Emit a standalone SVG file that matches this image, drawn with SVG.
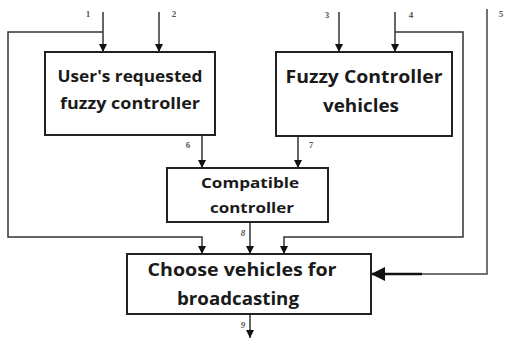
<svg xmlns="http://www.w3.org/2000/svg" width="505" height="338" viewBox="0 0 505 338">
<defs>
<marker id="ah" viewBox="0 0 8 8" refX="8" refY="4" markerWidth="8" markerHeight="8" markerUnits="userSpaceOnUse" orient="auto">
<path d="M0,0 L8,4 L0,8 Z" fill="#111"/>
</marker>
<marker id="ahBig" viewBox="0 0 14 14" refX="14" refY="7" markerWidth="14" markerHeight="14" markerUnits="userSpaceOnUse" orient="auto">
<path d="M0,0 L14,7 L0,14 Z" fill="#111"/>
</marker>
</defs>
<style>
.box{fill:#fff;stroke:#222;stroke-width:2}
.t{font-family:"Open Sans","Liberation Sans",sans-serif;font-weight:bold;fill:#1a1a1a;text-anchor:middle}
.n{font-family:"Liberation Serif",serif;font-weight:bold;font-size:9px;fill:#555;text-anchor:middle}
.c{fill:none;stroke:#444;stroke-width:1.5}
.ca{fill:none;stroke:#333;stroke-width:1.5;marker-end:url(#ah)}
</style>
<rect width="505" height="338" fill="#fff"/>
<g id="connectors">
<line class="ca" x1="103" y1="12" x2="103" y2="52"/>
<line class="ca" x1="159" y1="12" x2="159" y2="52"/>
<line class="ca" x1="339" y1="12" x2="339" y2="52"/>
<line class="ca" x1="395" y1="12" x2="395" y2="52"/>
<polyline class="ca" points="103,32 8,32 8,237 202,237 202,254"/>
<polyline class="ca" points="395,32 463,32 463,237 284,237 284,254"/>
<line class="ca" x1="202" y1="136" x2="202" y2="168"/>
<line class="ca" x1="298" y1="136" x2="298" y2="168"/>
<line class="ca" x1="250" y1="222" x2="250" y2="254"/>
<line class="ca" x1="250" y1="314" x2="250" y2="338"/>
<polyline class="c" points="487,9 487,274 422,274"/>
<line x1="422" y1="274" x2="371" y2="274" stroke="#111" stroke-width="2.5" marker-end="url(#ahBig)"/>
<text class="n" x="88" y="17">1</text>
<text class="n" x="174" y="17">2</text>
<text class="n" x="327" y="18">3</text>
<text class="n" x="411" y="18">4</text>
<text class="n" x="501" y="17" text-anchor="start">5</text>
<text class="n" x="188" y="148">6</text>
<text class="n" x="311" y="148">7</text>
<text class="n" x="243" y="236" font-style="italic">8</text>
<text class="n" x="243" y="328" font-style="italic">9</text>
</g>
<g id="node-user">
<rect class="box" x="45" y="52" width="170" height="83"/>
<text class="t" x="130" y="82" font-size="15.5" textLength="145" lengthAdjust="spacingAndGlyphs">User's requested</text>
<text class="t" x="130" y="109" font-size="15.5" textLength="140" lengthAdjust="spacingAndGlyphs">fuzzy controller</text>
</g>
<g id="node-fuzzy">
<rect class="box" x="276" y="52" width="176" height="84"/>
<text class="t" x="364" y="83" font-size="18" textLength="157" lengthAdjust="spacingAndGlyphs">Fuzzy Controller</text>
<text class="t" x="361" y="112" font-size="18" textLength="76" lengthAdjust="spacingAndGlyphs">vehicles</text>
</g>
<g id="node-compatible">
<rect class="box" x="167" y="168" width="161" height="54"/>
<text class="t" x="250" y="188" font-size="14" textLength="98" lengthAdjust="spacingAndGlyphs">Compatible</text>
<text class="t" x="252" y="213" font-size="14" textLength="84" lengthAdjust="spacingAndGlyphs">controller</text>
</g>
<g id="node-choose">
<rect class="box" x="127" y="254" width="244" height="60"/>
<text class="t" x="242" y="276" font-size="17" textLength="189" lengthAdjust="spacingAndGlyphs">Choose vehicles for</text>
<text class="t" x="238" y="305" font-size="17" textLength="122" lengthAdjust="spacingAndGlyphs">broadcasting</text>
</g>
</svg>
